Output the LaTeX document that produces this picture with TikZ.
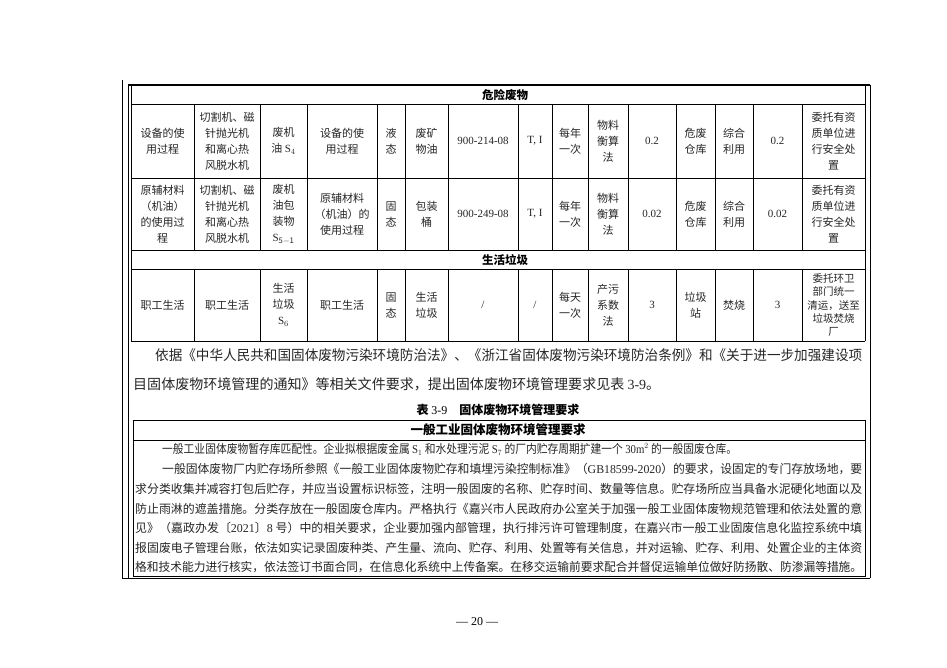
\documentclass[tikz,border=0pt]{standalone}
\usepackage{fontspec}
\usepackage{graphicx}
\setmainfont{Noto Sans CJK SC}
\newfontfamily\lat{Liberation Serif}
\newcommand\fitw[2]{\resizebox{#1}{\height}{#2}}
\begin{document}
\begin{tikzpicture}[x=1pt,y=-1pt,
  cellt/.style={align=center,font=\fontsize{11}{16}\selectfont,text=black!85,inner sep=0pt},
  hdr/.style={font=\fontsize{11.5}{14}\selectfont\bfseries,inner sep=0pt},
  ln/.style={line width=0.6pt},
  txt/.style={anchor=west,inner sep=0pt,font=\fontsize{12}{14}\selectfont,text=black!85}]
\fill[white] (0,0) rectangle (947,667);
\useasboundingbox (0,0) rectangle (947,667);
% page frame
\draw[ln] (122,80) -- (122,578);
\draw[ln] (128,85) -- (128,578);
\draw[line width=2pt] (128,85) -- (870,85);
\draw[ln] (870,85) -- (870,578);
\draw[ln] (122,578) -- (870,578);
% table 1 grid
\draw[ln] (131,85) -- (131,341);
\draw[ln] (865,85) -- (865,341);
\foreach \y in {104,178,250,269,341} \draw[ln] (131,\y) -- (865,\y);
\foreach \x in {194,260,307,377,405,448,518,552,588,628,676,715,753,802}{
  \draw[ln] (\x,104) -- (\x,250);
  \draw[ln] (\x,269) -- (\x,341);}
\node[hdr] (h1) at (505,95) {危险废物};
\node[hdr] (h2) at (505,260) {生活垃圾};
% row 1
\node[cellt] (a1) at (162.5,141) {设备的使\\用过程};
\node[cellt] (a2) at (227,141) {切割机、磁\\针抛光机\\和离心热\\风脱水机};
\node[cellt] (a3) at (283.5,141) {废机\\油 {\lat S$_4$}};
\node[cellt] (a4) at (342,141) {设备的使\\用过程};
\node[cellt] (a5) at (391,141) {液\\态};
\node[cellt] (a6) at (426.5,141) {废矿\\物油};
\node[cellt] (a7) at (483,141) {\lat 900-214-08};
\node[cellt] (a8) at (535,141) {\lat T, I};
\node[cellt] (a9) at (570,141) {每年\\一次};
\node[cellt] (a10) at (608,141) {物料\\衡算\\法};
\node[cellt] (a11) at (652,141) {\lat 0.2};
\node[cellt] (a12) at (695.5,141) {危废\\仓库};
\node[cellt] (a13) at (734,141) {综合\\利用};
\node[cellt] (a14) at (777.5,141) {\lat 0.2};
\node[cellt] (a15) at (833.5,141) {委托有资\\质单位进\\行安全处\\置};
% row 2
\node[cellt] (b1) at (162.5,214) {原辅材料\\（机油）\\的使用过\\程};
\node[cellt] (b2) at (227,214) {切割机、磁\\针抛光机\\和离心热\\风脱水机};
\node[cellt] (b3) at (283.5,214) {废机\\油包\\装物\\{\lat S$_{\mathrm{5-1}}$}};
\node[cellt] (b4) at (342,214) {原辅材料\\（机油）的\\使用过程};
\node[cellt] (b5) at (391,214) {固\\态};
\node[cellt] (b6) at (426.5,214) {包装\\桶};
\node[cellt] (b7) at (483,214) {\lat 900-249-08};
\node[cellt] (b8) at (535,214) {\lat T, I};
\node[cellt] (b9) at (570,214) {每年\\一次};
\node[cellt] (b10) at (608,214) {物料\\衡算\\法};
\node[cellt] (b11) at (652,214) {\lat 0.02};
\node[cellt] (b12) at (695.5,214) {危废\\仓库};
\node[cellt] (b13) at (734,214) {综合\\利用};
\node[cellt] (b14) at (777.5,214) {\lat 0.02};
\node[cellt] (b15) at (833.5,214) {委托有资\\质单位进\\行安全处\\置};
% row 3
\node[cellt] (c1) at (162.5,305) {职工生活};
\node[cellt] (c2) at (227,305) {职工生活};
\node[cellt] (c3) at (283.5,305) {生活\\垃圾\\{\lat S$_6$}};
\node[cellt] (c4) at (342,305) {职工生活};
\node[cellt] (c5) at (391,305) {固\\态};
\node[cellt] (c6) at (426.5,305) {生活\\垃圾};
\node[cellt] (c7) at (483,305) {\lat /};
\node[cellt] (c8) at (535,305) {\lat /};
\node[cellt] (c9) at (570,305) {每天\\一次};
\node[cellt] (c10) at (608,305) {产污\\系数\\法};
\node[cellt] (c11) at (652,305) {\lat 3};
\node[cellt] (c12) at (695.5,305) {垃圾\\站};
\node[cellt] (c13) at (734,305) {焚烧};
\node[cellt] (c14) at (777.5,305) {\lat 3};
\node[cellt,font=\fontsize{10.5}{13.2}\selectfont] (c15) at (833.5,305) {委托环卫\\部门统一\\清运，送至\\垃圾焚烧\\厂};
% paragraph
\node[txt,font=\fontsize{14}{16}\selectfont] (p1) at (155,355) {\fitw{707pt}{依据《中华人民共和国固体废物污染环境防治法》、《浙江省固体废物污染环境防治条例》和《关于进一步加强建设项}};
\node[txt,font=\fontsize{14}{16}\selectfont] (p2) at (133,384) {\fitw{527pt}{目固体废物环境管理的通知》等相关文件要求，提出固体废物环境管理要求见表 {\lat 3-9}。}};
\node[hdr,font=\fontsize{12}{14}\selectfont\bfseries] (cap) at (498,410) {表 {\lat\mdseries 3-9}\quad 固体废物环境管理要求};
% table 2
\draw[ln] (133,420) rectangle (865,576);
\draw[ln] (133,440) -- (865,440);
\node[hdr,font=\fontsize{12.5}{14}\selectfont\bfseries] (h3) at (498,430) {一般工业固体废物环境管理要求};
\node[txt] (t1) at (162,449) {\fitw{575pt}{一般工业固体废物暂存库匹配性。企业拟根据废金属 {\lat S$_1$} 和水处理污泥 {\lat S$_7$} 的厂内贮存周期扩建一个 {\lat 30m$^2$} 的一般固废仓库。}};
\node[txt] (t2) at (162,469) {\fitw{700pt}{一般固体废物厂内贮存场所参照《一般工业固体废物贮存和填埋污染控制标准》（{\lat GB18599-2020}）的要求，设固定的专门存放场地，要}};
\node[txt] (t3) at (135,489) {\fitw{727pt}{求分类收集并减容打包后贮存，并应当设置标识标签，注明一般固废的名称、贮存时间、数量等信息。贮存场所应当具备水泥硬化地面以及}};
\node[txt] (t4) at (135,509) {\fitw{727pt}{防止雨淋的遮盖措施。分类存放在一般固废仓库内。严格执行《嘉兴市人民政府办公室关于加强一般工业固体废物规范管理和依法处置的意}};
\node[txt] (t5) at (135,528) {\fitw{727pt}{见》（嘉政办发〔{\lat 2021}〕{\lat 8} 号）中的相关要求，企业要加强内部管理，执行排污许可管理制度，在嘉兴市一般工业固废信息化监控系统中填}};
\node[txt] (t6) at (135,548) {\fitw{727pt}{报固废电子管理台账，依法如实记录固废种类、产生量、流向、贮存、利用、处置等有关信息，并对运输、贮存、利用、处置企业的主体资}};
\node[txt] (t7) at (135,567) {\fitw{727pt}{格和技术能力进行核实，依法签订书面合同，在信息化系统中上传备案。在移交运输前要求配合并督促运输单位做好防扬散、防渗漏等措施。}};
% page number
\node[font=\fontsize{12}{14}\selectfont\lat] (pg) at (477,622) {—\ 20\ —};
\end{tikzpicture}
\end{document}
